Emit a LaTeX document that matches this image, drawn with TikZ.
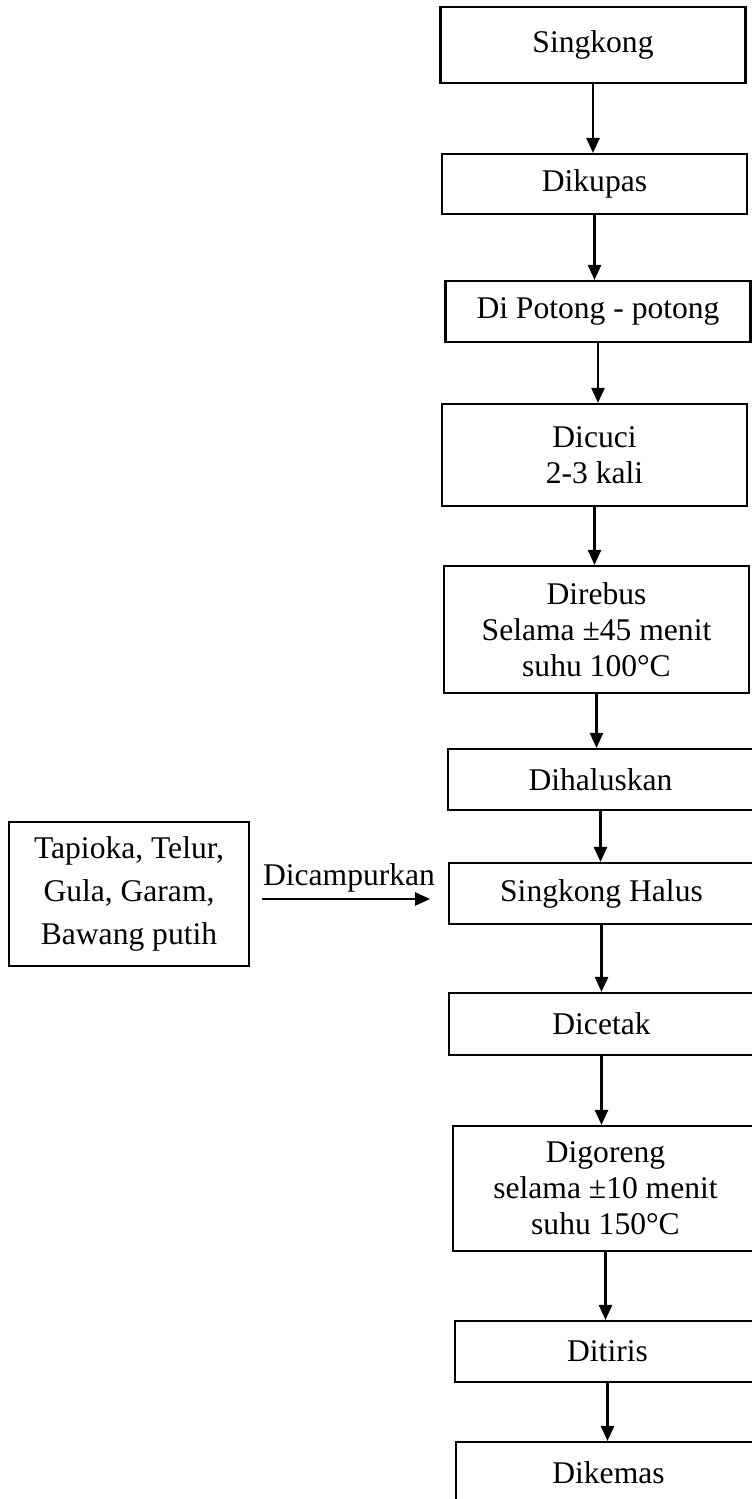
\documentclass[tikz,border=0pt]{standalone}
\usepackage{fontspec}
\setmainfont{Liberation Serif}
\usetikzlibrary{positioning}
\usetikzlibrary{calc}
\usetikzlibrary{arrows.meta}

\begin{document}
\begin{tikzpicture}[->,>={Triangle[length=5.7pt,width=5pt]},x=0.38pt,y=-0.38pt]
			\tikzset{proses/.style = {shape=rectangle, draw, line width=0.8pt, align=center, inner sep=0pt,
					minimum width=115.9pt, font=\fontsize{12}{13.7}\selectfont}}
			\useasboundingbox (0,0) rectangle (751,1499);
			\node[proses, minimum height=28.9pt] (SINGKONG) at (593,45) {Singkong};
			\node[proses, minimum height=22.8pt] (KUPAS) at (594.5,184) {Dikupas};
			\node[proses, minimum height=23.2pt] (POTONG) at (598,311.5) {Di Potong - potong};
			\node[proses, minimum height=38.8pt] (CUCI) at (594.5,455)
			{Dicuci \\ 2-3 kali};
			\node[proses, minimum height=48.3pt] (REBUS) at (596.5,629.5)
			{Direbus \\ Selama ±45 menit \\ suhu 100°C};
			\node[proses, minimum height=23.2pt] (HALUSKAN) at (600.5,779.5) {Dihaluskan};
			\node[proses, minimum height=23.2pt] (HALUS) at (601.5,893.5) {Singkong Halus};
			\node[proses, minimum height=23.6pt] (CETAK) at (601.5,1024) {Dicetak};
			\node[proses, minimum height=47.5pt] (GORENG) at (605.5,1188.5)
			{Digoreng \\ selama ±10 menit \\ suhu 150°C};
			\node[proses, minimum height=23.2pt] (TIRIS) at (607.5,1351.5) {Ditiris};
			\node[proses, minimum height=23.2pt] (KEMAS) at (608.5,1472.5) {Dikemas};
			
			\node[proses, minimum width=91.2pt, minimum height=54.7pt,
				font=\fontsize{12}{16.3}\selectfont] (BAHAN) at (129,894)
			{Tapioka, Telur, \\ Gula, Garam, \\ Bawang putih};
			
			\draw[line width=0.8pt] (SINGKONG.south) -- (SINGKONG.south |- KUPAS.north);
			\draw[line width=0.8pt] (KUPAS.south) -- (KUPAS.south |- POTONG.north);
			\draw[line width=0.8pt] (POTONG.south) -- (POTONG.south |- CUCI.north);
			\draw[line width=0.8pt] (CUCI.south) -- (CUCI.south |- REBUS.north);
			\draw[line width=0.8pt] (REBUS.south) -- (REBUS.south |- HALUSKAN.north);
			\draw[line width=0.8pt] (HALUSKAN.south) -- (HALUSKAN.south |- HALUS.north);
			\draw[line width=0.8pt] (HALUS.south) -- (HALUS.south |- CETAK.north);
			\draw[line width=0.8pt] (CETAK.south) -- (CETAK.south |- GORENG.north);
			\draw[line width=0.8pt] (GORENG.south) -- (GORENG.south |- TIRIS.north);
			\draw[line width=0.8pt] (TIRIS.south) -- (TIRIS.south |- KEMAS.north);
			
			\draw[line width=0.8pt, shorten <=4.6pt, shorten >=6.8pt]
			([yshift=-1.9pt]BAHAN.east) -- ([yshift=-1.9pt]BAHAN.east -| HALUS.west)
			node[midway, above, font=\fontsize{12}{13.7}\selectfont, inner sep=2pt] (CAMPUR) {Dicampurkan};
\end{tikzpicture}
\end{document}
